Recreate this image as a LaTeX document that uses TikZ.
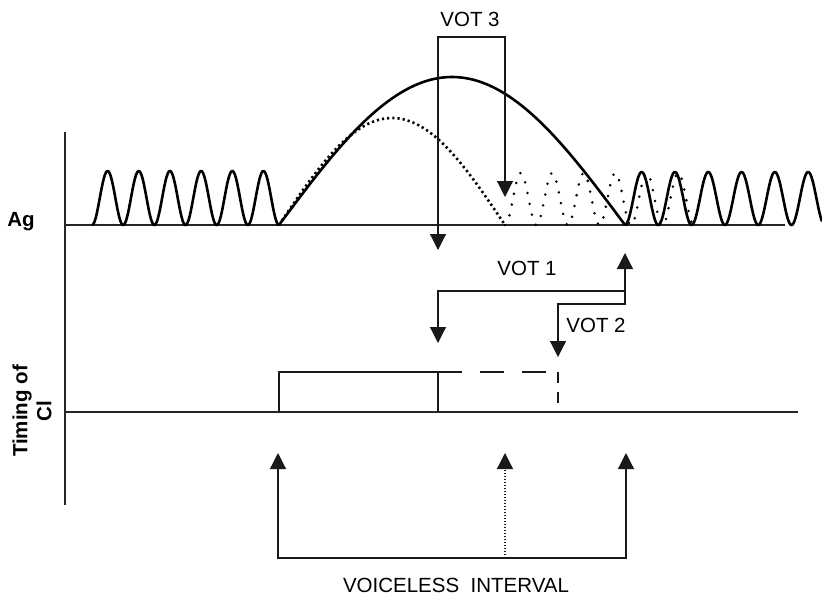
\documentclass[tikz,border=0pt]{standalone}
\usepackage{fontspec}
\setmainfont{Liberation Sans}
\usetikzlibrary{arrows.meta}
\begin{document}
\begin{tikzpicture}[x=1pt,y=-1pt,
  axis/.style={line width=1.2pt,black!85},
  wave/.style={line width=2.6pt,black,line join=round},
  dotwave/.style={line width=2.6pt,black,dash pattern=on 2.2pt off 3pt},
  sparsewave/.style={line width=2.8pt,black,dash pattern=on 0pt off 11pt,line cap=round},
  conn/.style={line width=1.2pt,black!90},
  tip/.style={-{Triangle[width=16pt,length=16pt]}},
  tips/.style={{Triangle[width=16pt,length=16pt]}-{Triangle[width=16pt,length=16pt]}},
  lbl/.style={font=\fontsize{20.5}{24}\selectfont,inner sep=0pt},
  blbl/.style={font=\fontsize{20.5}{24}\selectfont\bfseries,inner sep=0pt}]
\useasboundingbox (0,0) rectangle (822,598);
% axes
\coordinate (axtop) at (65,132);
\coordinate (axbot) at (65,505);
\coordinate (agL) at (65,225);
\coordinate (agR) at (785,225);
\coordinate (tcL) at (65,412);
\coordinate (tcR) at (798,412);
\draw[axis] (axtop) -- (axbot);
\draw[axis] (agL) -- (agR);
\draw[axis] (tcL) -- (tcR);
% labels
\node[blbl] (ag) at (21,222) {Ag};
\node[blbl,rotate=90,align=center] (tim) at (32,411) {Timing of\\Cl};
% waves
\draw[wave] plot[domain=92:279,samples=300] (\x,{225-27*(1-cos((\x-92)/31.17*360))});
\draw[wave] plot[domain=279:625,samples=200] (\x,{225-148*sin((\x-279)/346*180)});
\draw[dotwave] plot[domain=279:505,samples=200] (\x,{225-107*sin((\x-279)/226*180)});
\draw[sparsewave] plot[domain=505:694,samples=300] (\x,{225-26*(1-cos((\x-505)/31.5*360))});
\draw[wave] plot[domain=625:822,samples=300] (\x,{225-26.5*(1-cos((\x-625)/33.3*360))});
% VOT 3
\coordinate (v3l) at (438,250);
\coordinate (v3tl) at (438,37);
\coordinate (v3tr) at (505,37);
\coordinate (v3r) at (505,197);
\draw[conn,tips] (v3l) -- (v3tl) -- (v3tr) -- (v3r);
\node[lbl] (vot3) at (470,19) {VOT 3};
% VOT 1 and VOT 2
\coordinate (v1l) at (438,343);
\coordinate (v1tl) at (438,291);
\coordinate (v1tr) at (625,291);
\coordinate (v1r) at (625,253);
\draw[conn,tips] (v1l) -- (v1tl) -- (v1tr) -- (v1r);
\coordinate (v2a) at (625,304);
\coordinate (v2b) at (558,304);
\coordinate (v2tip) at (558,357);
\draw[conn,tip] (v1tr) -- (v2a) -- (v2b) -- (v2tip);
\node[lbl] (vot1) at (527,268) {VOT 1};
\node[lbl] (vot2) at (596,325) {VOT 2};
% timing of closure
\coordinate (c0) at (279,412);
\coordinate (c1) at (279,372);
\coordinate (c2) at (438,372);
\coordinate (c3) at (438,412);
\coordinate (c4) at (558,372);
\coordinate (c5) at (558,412);
\draw[conn] (c0) -- (c1) -- (c2);
\draw[conn] (c2) -- (c3);
\draw[conn,dash pattern=on 24pt off 18pt] (c2) -- (c4);
\draw[conn,dash pattern=on 11pt off 9pt] (c4) -- (c5);
% voiceless interval
\coordinate (b1) at (278,453);
\coordinate (b1b) at (278,558);
\coordinate (b3b) at (626,558);
\coordinate (b3) at (626,453);
\coordinate (b2b) at (505,558);
\coordinate (b2) at (505,453);
\draw[conn,tips] (b1) -- (b1b) -- (b3b) -- (b3);
\draw[conn,tip,dash pattern=on 1.5pt off 1.5pt] (b2b) -- (b2);
\node[lbl] (vi) at (456,585) {VOICELESS\ \ INTERVAL};
\end{tikzpicture}
\end{document}
